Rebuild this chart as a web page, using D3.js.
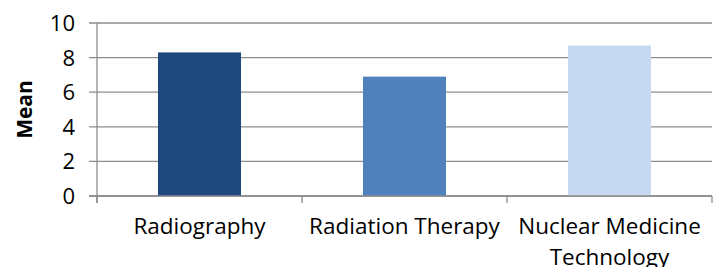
<!DOCTYPE html>
<html>
<head>
<meta charset="utf-8">
<script src="https://cdn.jsdelivr.net/npm/d3@7"></script>
<style>
  body { margin: 0; background: #fff; }
  svg { display: block; }
  text { font-family: "Open Sans", sans-serif; fill: #000; }
</style>
</head>
<body>
<div id="chart"></div>
<script>
// chart data
const categories = ["Radiography", "Radiation Therapy", "Nuclear Medicine Technology"];
const means = [8.3, 6.9, 8.7];
const barColors = ["#1F497D", "#4F81BD", "#C6D9F1"];
const yTicks = [0, 2, 4, 6, 8, 10];

const width = 713, height = 267;
const margin = { top: 23, right: 1, bottom: 71, left: 97 };

const svg = d3.select("#chart")
    .append("svg")
    .attr("width", width)
    .attr("height", height);

const x = d3.scaleBand()
    .domain(categories)
    .range([margin.left, width - margin.right])
    .padding(0);

const y = d3.scaleLinear()
    .domain([0, 10])
    .range([height - margin.bottom, margin.top]);

const gridColor = "#8c8c8c";

// gridlines + y ticks
svg.append("g")
    .selectAll("line")
    .data(yTicks)
    .enter().append("line")
    .attr("x1", margin.left - 8)
    .attr("x2", width - margin.right)
    .attr("y1", d => y(d))
    .attr("y2", d => y(d))
    .attr("stroke", gridColor)
    .attr("stroke-width", 1.3);

svg.append("g")
    .selectAll("text")
    .data(yTicks)
    .enter().append("text")
    .attr("x", margin.left - 22)
    .attr("y", d => y(d))
    .attr("dy", "0.36em")
    .attr("text-anchor", "end")
    .style("font-size", "22px")
    .text(d => d);

// bars
const barW = x.bandwidth() * 0.405;
svg.append("g")
    .selectAll("rect")
    .data(categories)
    .enter().append("rect")
    .attr("x", d => x(d) + (x.bandwidth() - barW) / 2)
    .attr("y", (d, i) => y(means[i]))
    .attr("width", barW)
    .attr("height", (d, i) => y(0) - y(means[i]))
    .attr("fill", (d, i) => barColors[i]);

// axes lines
svg.append("line")
    .attr("x1", margin.left).attr("x2", margin.left)
    .attr("y1", y(10)).attr("y2", y(0) + 7)
    .attr("stroke", gridColor).attr("stroke-width", 1.3);

svg.append("line")
    .attr("x1", margin.left - 8).attr("x2", width - margin.right)
    .attr("y1", y(0)).attr("y2", y(0))
    .attr("stroke", gridColor).attr("stroke-width", 1.5);

// category ticks
const tickXs = categories.map(c => x(c)).concat([x(categories[categories.length - 1]) + x.bandwidth()]);
svg.append("g")
    .selectAll("line")
    .data(tickXs)
    .enter().append("line")
    .attr("x1", d => d).attr("x2", d => d)
    .attr("y1", y(0)).attr("y2", y(0) + 7)
    .attr("stroke", gridColor).attr("stroke-width", 1.3);

// category labels (wrapped like the original)
const labelLines = [["Radiography"], ["Radiation Therapy"], ["Nuclear Medicine", "Technology"]];
svg.append("g")
    .selectAll("text")
    .data(categories)
    .enter().append("text")
    .attr("text-anchor", "middle")
    .style("font-size", "22.5px")
    .each(function(d, i) {
        const t = d3.select(this);
        labelLines[i].forEach((line, j) => {
            t.append("tspan")
                .attr("x", x(d) + x.bandwidth() / 2)
                .attr("y", 234 + j * 31)
                .text(line);
        });
    });

// y axis title
svg.append("text")
    .attr("transform", `translate(32, ${(y(0) + y(10)) / 2}) rotate(-90)`)
    .attr("text-anchor", "middle")
    .style("font-size", "21px")
    .style("font-weight", "bold")
    .text("Mean");
</script>
</body>
</html>
